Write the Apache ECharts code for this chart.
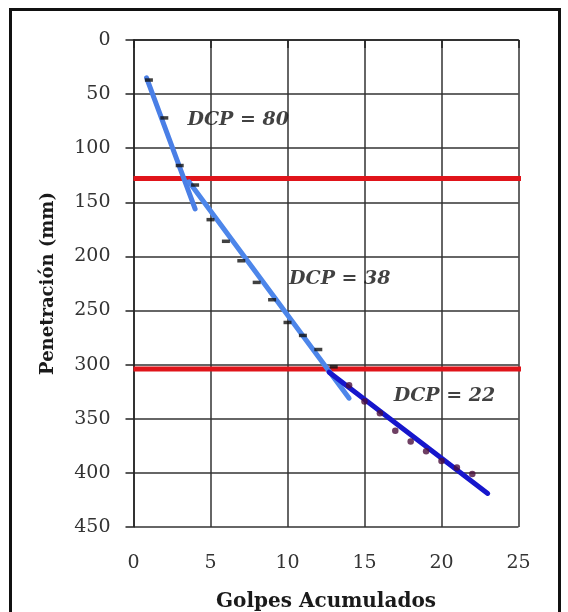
<!DOCTYPE html>
<html>
<head>
<meta charset="utf-8">
<script src="https://cdn.jsdelivr.net/npm/echarts@6/dist/echarts.min.js"></script>
<style>
  body { margin: 0; background: #fff; }
  #wrap { position: relative; width: 568px; height: 612px; overflow: hidden; }
  #frame { position: absolute; left: 9px; top: 8px; width: 546px; height: 640px; border: 3px solid #111; }
  #chart { position: absolute; left: 0; top: 0; width: 568px; height: 612px; }
</style>
</head>
<body>
<div id="wrap">
  <div id="frame"></div>
  <div id="chart"></div>
</div>
<script>
// golpes (x) y penetracion (mm)
const golpesA = [1, 2, 3, 4, 5, 6, 7, 8, 9, 10, 11, 12, 13];
const penA = [37, 72, 116, 134, 166, 186, 204, 224, 240, 261, 273, 286, 302];
const golpesB = [14, 15, 16, 17, 18, 19, 20, 21, 22];
const penB = [319, 334, 345, 361, 371, 380, 389, 395, 401];

// rectas de ajuste
const tramo1 = [[0.85, 35], [4.0, 156]];
const tramo2 = [[3.6, 131], [14.0, 331]];
const tramo3 = [[12.7, 307], [23.0, 419]];

// limites de capa
const limites = [128, 304];
const limiteX = [0, 25.3];

// etiquetas DCP
const etiquetas = [
  { x: 3.5, y: 74, txt: 'DCP = 80' },
  { x: 10.1, y: 221, txt: 'DCP = 38' },
  { x: 16.9, y: 329, txt: 'DCP = 22' }
];

const xTicks = { min: 0, max: 25, interval: 5 };
const yTicks = { min: 0, max: 450, interval: 50 };

const serif = 'DejaVu Serif';
const chart = echarts.init(document.getElementById('chart'));

const series = [];
// lineas rojas
limites.forEach(function (v) {
  series.push({
    type: 'line',
    data: limiteX.map(function (x) { return [x, v]; }),
    symbol: 'none',
    clip: false,
    lineStyle: { color: '#e0141a', width: 5 },
    z: 2
  });
});
// rectas
[[tramo1, '#4a7fe6'], [tramo2, '#4d86ea'], [tramo3, '#1616cc']].forEach(function (t) {
  series.push({
    type: 'line',
    data: t[0],
    symbol: 'none',
    lineStyle: { color: t[1], width: 5, cap: 'round' },
    z: 3
  });
});
// puntos
series.push({
  type: 'scatter',
  data: golpesA.map(function (g, i) { return [g, penA[i]]; }),
  symbol: 'rect',
  symbolSize: [8, 3.5],
  itemStyle: { color: '#111' },
  z: 4
});
series.push({
  type: 'scatter',
  data: golpesB.map(function (g, i) { return [g, penB[i]]; }),
  symbol: 'circle',
  symbolSize: 6.5,
  itemStyle: { color: '#4a0f3c' },
  z: 4
});
// textos
series.push({
  type: 'scatter',
  data: etiquetas.map(function (e) { return { value: [e.x, e.y], name: e.txt }; }),
  symbolSize: 0,
  silent: true,
  label: {
    show: true,
    position: 'right',
    distance: 0,
    formatter: '{b}',
    fontFamily: serif,
    fontSize: 19,
    fontWeight: 'bold',
    fontStyle: 'italic',
    color: '#111'
  },
  z: 5
});

chart.setOption({
  animation: false,
  grid: { left: 133.5, right: 49.5, top: 40, bottom: 85, containLabel: false, outerBoundsMode: 'none' },
  xAxis: {
    type: 'value',
    min: xTicks.min, max: xTicks.max, interval: xTicks.interval,
    name: 'Golpes Acumulados',
    nameLocation: 'middle',
    nameGap: 65,
    nameTextStyle: { fontFamily: serif, fontSize: 20, fontWeight: 'bold', color: '#1a1a1a' },
    axisLine: { lineStyle: { color: '#222', width: 1.5 } },
    axisTick: { show: true, length: 8, lineStyle: { color: '#222', width: 1.5 } },
    axisLabel: { fontFamily: serif, fontSize: 19, color: '#333', margin: 27 },
    splitLine: { show: true, lineStyle: { color: '#333', width: 1.5 } }
  },
  yAxis: {
    type: 'value',
    inverse: true,
    min: yTicks.min, max: yTicks.max, interval: yTicks.interval,
    name: 'Penetración (mm)',
    nameLocation: 'middle',
    nameGap: 76,
    nameTextStyle: { fontFamily: serif, fontSize: 18, fontWeight: 'bold', color: '#1a1a1a' },
    axisLine: { show: true, lineStyle: { color: '#222', width: 1.5 } },
    axisTick: { show: true, length: 8, lineStyle: { color: '#222', width: 1.5 } },
    axisLabel: { fontFamily: serif, fontSize: 19, color: '#333', margin: 23 },
    splitLine: { show: true, lineStyle: { color: '#333', width: 1.5 } }
  },
  series: series
});
</script>
</body>
</html>
